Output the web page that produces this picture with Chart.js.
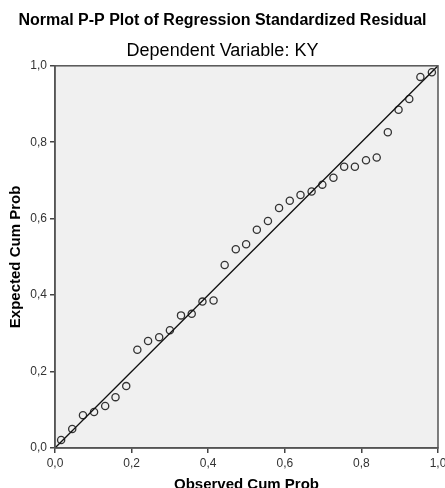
<!DOCTYPE html>
<html>
<head>
<meta charset="utf-8">
<script src="https://cdn.jsdelivr.net/npm/chart.js@4"></script>
<style>
html, body { margin: 0; padding: 0; background: #fff; }
#wrap { width: 445px; height: 488px; }
</style>
</head>
<body>
<div id="wrap"><canvas id="myChart" width="445" height="488"></canvas></div>
<script>
// observed cum prob (x) and expected cum prob (y)
var observed = [0.016, 0.045, 0.073, 0.102, 0.131, 0.158, 0.186, 0.215, 0.243, 0.272,
                0.300, 0.329, 0.357, 0.385, 0.414, 0.443, 0.472, 0.499, 0.527, 0.556,
                0.585, 0.613, 0.641, 0.670, 0.698, 0.727, 0.755, 0.783, 0.812, 0.840,
                0.869, 0.897, 0.925, 0.954, 0.984];
var expected = [0.021, 0.050, 0.086, 0.094, 0.110, 0.133, 0.162, 0.257, 0.280, 0.290,
                0.308, 0.347, 0.351, 0.383, 0.386, 0.479, 0.520, 0.533, 0.571, 0.594,
                0.628, 0.647, 0.662, 0.671, 0.689, 0.707, 0.736, 0.736, 0.753, 0.760,
                0.826, 0.885, 0.913, 0.971, 0.983];
var refLine = [0, 1];
var tickValues = [0, 0.2, 0.4, 0.6, 0.8, 1.0];

var pts = [];
for (var i = 0; i < observed.length; ++i) {
    pts.push({x: observed[i], y: expected[i]});
}
var diag = [];
for (var i = 0; i < refLine.length; ++i) {
    diag.push({x: refLine[i], y: refLine[i]});
}

function fmt(v) {
    return v.toFixed(1).replace('.', ',');
}

var plotFrame = {
    id: 'plotFrame',
    beforeDraw: function(chart) {
        var a = chart.chartArea, c = chart.ctx;
        c.save();
        c.fillStyle = '#f0f0f0';
        c.fillRect(a.left, a.top, a.right - a.left, a.bottom - a.top);
        c.restore();
    },
    afterDraw: function(chart) {
        var a = chart.chartArea, c = chart.ctx;
        c.save();
        c.strokeStyle = '#555';
        c.lineWidth = 1.5;
        c.strokeRect(a.left, a.top, a.right - a.left, a.bottom - a.top);
        c.restore();
    }
};

var ctx = document.getElementById('myChart').getContext('2d');
var chart = new Chart(ctx, {
    type: 'scatter',
    data: {
        datasets: [{
            type: 'line',
            data: diag,
            borderColor: '#111',
            borderWidth: 1.3,
            pointRadius: 0,
            fill: false
        }, {
            data: pts,
            pointRadius: 3.6,
            pointBorderWidth: 1.3,
            pointBorderColor: '#333',
            pointBackgroundColor: 'rgba(0,0,0,0)',
            borderColor: '#333',
            backgroundColor: 'rgba(0,0,0,0)'
        }]
    },
    options: {
        responsive: false,
        animation: false,
        plugins: {
            legend: { display: false },
            tooltip: { enabled: false },
            title: {
                display: true,
                text: 'Normal P-P Plot of Regression Standardized Residual',
                color: '#000',
                font: { family: 'Liberation Sans', size: 16, weight: 'bold' },
                padding: { top: 11, bottom: 5 }
            },
            subtitle: {
                display: true,
                text: 'Dependent Variable: KY',
                color: '#000',
                font: { family: 'Liberation Sans', size: 18 },
                padding: { top: 5, bottom: 4 }
            }
        },
        scales: {
            x: {
                type: 'linear',
                min: 0, max: 1,
                afterBuildTicks: function(s) { s.ticks = tickValues.map(function(v) { return {value: v}; }); },
                afterFit: function(s) { s.height = 40; s.paddingRight = 7; },
                ticks: {
                    callback: function(v) { return fmt(v); },
                    color: '#333',
                    font: { family: 'Liberation Sans', size: 12 },
                    padding: 3,
                    maxRotation: 0
                },
                grid: { drawOnChartArea: false, drawTicks: true, tickLength: 5, color: '#444', lineWidth: 1.5 },
                border: { display: true, color: '#555', width: 1.5 },
                title: {
                    display: true,
                    text: 'Observed Cum Prob',
                    color: '#000',
                    font: { family: 'Liberation Sans', size: 15, weight: 'bold' },
                    padding: { top: 0, bottom: -6 }
                }
            },
            y: {
                type: 'linear',
                min: 0, max: 1,
                afterBuildTicks: function(s) { s.ticks = tickValues.map(function(v) { return {value: v}; }); },
                afterFit: function(s) { s.width = 55; },
                ticks: {
                    callback: function(v) { return fmt(v); },
                    color: '#333',
                    font: { family: 'Liberation Sans', size: 12 },
                    padding: 3
                },
                grid: { drawOnChartArea: false, drawTicks: true, tickLength: 5, color: '#444', lineWidth: 1.5 },
                border: { display: true, color: '#555', width: 1.5 },
                title: {
                    display: true,
                    text: 'Expected Cum Prob',
                    color: '#000',
                    font: { family: 'Liberation Sans', size: 15, weight: 'bold' },
                    padding: { top: 6.5, bottom: 0 }
                }
            }
        }
    },
    plugins: [plotFrame]
});
</script>
</body>
</html>
